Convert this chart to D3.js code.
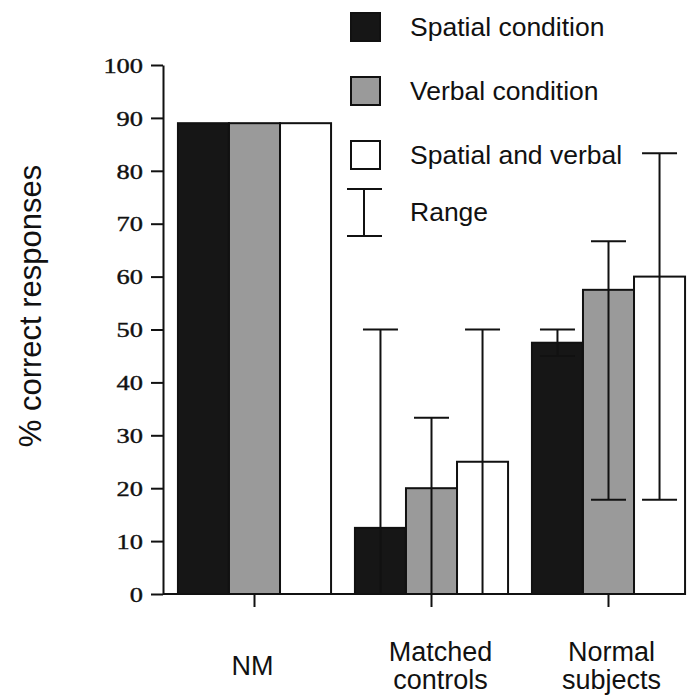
<!DOCTYPE html>
<html>
<head>
<meta charset="utf-8">
<script src="https://cdn.jsdelivr.net/npm/d3@7"></script>
<style>
	body { margin: 0; background: #fff; }
	svg { display: block; }
</style>
</head>
<body>
<div id="chart"></div>
<script>
var groups = ["NM", "Matched controls", "Normal subjects"]
var series = ["Spatial condition", "Verbal condition", "Spatial and verbal"]
var spatial = [89, 12.5, 47.5]
var verbal = [89, 20, 57.5]
var both = [89, 25, 60]
// range bars as [low, high], none for NM
var spatialRange = [null, [0, 50], [45, 50]]
var verbalRange = [null, [0, 33.3], [17.8, 66.7]]
var bothRange = [null, [0, 50], [17.8, 83.3]]
var yTicks = [0, 10, 20, 30, 40, 50, 60, 70, 80, 90, 100]

var fills = ["#161616", "#9a9a9a", "#ffffff"]
var W = 687, H = 696
var axisX = 163, baseY = 594, topY = 65

var svg = d3.select("#chart").append("svg").attr("width", W).attr("height", H)

var y = d3.scaleLinear().domain([0, 100]).range([baseY, topY])
var x0 = d3.scaleBand().domain(groups).range([166, 697]).paddingInner(0.135).paddingOuter(0.0675)
var x1 = d3.scaleBand().domain(series).range([0, x0.bandwidth()])

var values = [spatial, verbal, both]
var ranges = [spatialRange, verbalRange, bothRange]

var bars = []
series.forEach(function(s, si) {
	groups.forEach(function(g, gi) {
		bars.push({group: g, series: s, si: si, value: values[si][gi], range: ranges[si][gi]})
	})
})

// bars
svg.append("g").selectAll("rect").data(bars).join("rect")
	.attr("x", function(d) { return x0(d.group) + x1(d.series) })
	.attr("y", function(d) { return y(d.value) })
	.attr("width", x1.bandwidth())
	.attr("height", function(d) { return baseY - y(d.value) })
	.attr("fill", function(d) { return fills[d.si] })
	.attr("stroke", "#111")
	.attr("stroke-width", 2)

// range bars
var capW = 35
var eb = svg.append("g").attr("stroke", "#111").attr("stroke-width", 2)
bars.filter(function(d) { return d.range }).forEach(function(d) {
	var cx = x0(d.group) + x1(d.series) + x1.bandwidth() / 2
	eb.append("line").attr("x1", cx).attr("x2", cx).attr("y1", y(d.range[0])).attr("y2", y(d.range[1]))
	eb.append("line").attr("x1", cx - capW / 2).attr("x2", cx + capW / 2).attr("y1", y(d.range[1])).attr("y2", y(d.range[1]))
	if (d.range[0] > 0) {
		eb.append("line").attr("x1", cx - capW / 2).attr("x2", cx + capW / 2).attr("y1", y(d.range[0])).attr("y2", y(d.range[0]))
	}
})

// y axis
var yAxis = svg.append("g").attr("transform", "translate(" + axisX + ",0)")
	.call(d3.axisLeft(y).tickValues(yTicks).tickSize(12).tickSizeOuter(0).tickPadding(0))
yAxis.select(".domain").attr("stroke", "#111").attr("stroke-width", 2)
yAxis.selectAll(".tick line").attr("stroke", "#111").attr("stroke-width", 2)
yAxis.selectAll(".tick text")
	.attr("x", 0).attr("dy", "0.33em")
	.attr("transform", "translate(-20,0) scale(1.2,1)")
	.style("font-family", "'Liberation Serif', 'Times New Roman', serif")
	.style("font-size", "22px")
	.attr("fill", "#111")
	.attr("stroke", "#111")
	.attr("stroke-width", 0.4)

// x axis baseline and ticks
svg.append("line").attr("x1", axisX).attr("x2", 686).attr("y1", baseY).attr("y2", baseY)
	.attr("stroke", "#111").attr("stroke-width", 2)
var xAxis = svg.append("g").attr("transform", "translate(0," + baseY + ")")
	.call(d3.axisBottom(x0).tickSize(13).tickSizeOuter(0).tickFormat(""))
xAxis.select(".domain").remove()
xAxis.selectAll(".tick line").attr("stroke", "#111").attr("stroke-width", 2)

// category labels
var labelLines = [["NM"], ["Matched", "controls"], ["Normal", "subjects"]]
var labelShift = [-2, 9, 3]
groups.forEach(function(g, gi) {
	var cx = x0(g) + x0.bandwidth() / 2 + labelShift[gi]
	var t = svg.append("text")
		.attr("x", cx)
		.attr("y", gi == 0 ? 675 : 661)
		.attr("text-anchor", "middle")
		.style("font-family", "'Liberation Sans', Arial, sans-serif")
		.style("font-size", "27px")
		.attr("fill", "#111")
	labelLines[gi].forEach(function(l, li) {
		t.append("tspan").attr("x", cx).attr("dy", li == 0 ? 0 : 28).text(l)
	})
})

// y label
svg.append("text")
	.attr("transform", "translate(41,306) rotate(-90)")
	.attr("text-anchor", "middle")
	.style("font-family", "'Liberation Sans', Arial, sans-serif")
	.style("font-size", "31px")
	.attr("fill", "#111")
	.text("% correct responses")

// legend
var legY = [13, 77, 141]
var leg = svg.append("g")
series.forEach(function(s, si) {
	leg.append("rect").attr("x", 351).attr("y", legY[si]).attr("width", 29).attr("height", 28)
		.attr("fill", fills[si]).attr("stroke", "#111").attr("stroke-width", 2)
	leg.append("text").attr("x", 410).attr("y", legY[si] + 23).text(s)
})
leg.append("line").attr("x1", 364).attr("x2", 364).attr("y1", 189).attr("y2", 236).attr("stroke", "#111").attr("stroke-width", 2)
leg.append("line").attr("x1", 347).attr("x2", 382).attr("y1", 189).attr("y2", 189).attr("stroke", "#111").attr("stroke-width", 2)
leg.append("line").attr("x1", 347).attr("x2", 382).attr("y1", 236).attr("y2", 236).attr("stroke", "#111").attr("stroke-width", 2)
leg.append("text").attr("x", 410).attr("y", 221).text("Range")
leg.selectAll("text")
	.style("font-family", "'Liberation Sans', Arial, sans-serif")
	.style("font-size", "26.5px")
	.attr("fill", "#111")
</script>
</body>
</html>
